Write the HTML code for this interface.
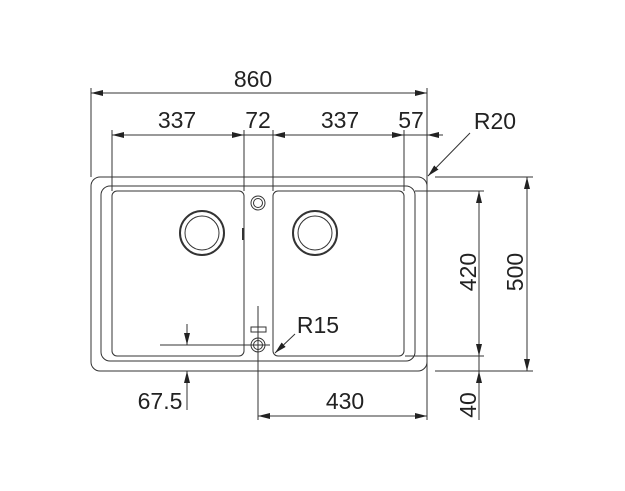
<!DOCTYPE html>
<html><head><meta charset="utf-8"><style>
html,body{margin:0;padding:0;background:#fff;}
svg{display:block;}
text{font-family:"Liberation Sans",Arial,sans-serif;font-size:23px;fill:#222;}
</style></head><body>
<svg width="625" height="491" viewBox="0 0 625 491" xmlns="http://www.w3.org/2000/svg">
<defs>
<marker id="a" viewBox="0 0 12 6" refX="12" refY="3" markerWidth="12" markerHeight="6" orient="auto-start-reverse" markerUnits="userSpaceOnUse"><path d="M0,0 L12,3 L0,6 z" fill="#222"/></marker>
</defs>
<g fill="none" stroke="#333" stroke-width="1">
<rect x="91" y="177" width="336" height="194" rx="9"/>
<rect x="101" y="186" width="314" height="175" rx="9"/>
<rect x="112" y="191" width="132" height="165" rx="5"/>
<rect x="273" y="191" width="131" height="165" rx="5"/>
<circle cx="202" cy="233" r="22" stroke-width="2"/>
<circle cx="202" cy="233" r="17"/>
<circle cx="315" cy="233" r="22" stroke-width="2"/>
<circle cx="315" cy="233" r="17"/>
<circle cx="258" cy="203" r="7"/>
<circle cx="258" cy="203" r="4.5"/>
<circle cx="258" cy="345" r="7"/>
<circle cx="258" cy="345" r="4.5"/>
<rect x="251" y="327" width="15" height="5"/>
<line x1="243" y1="228" x2="243" y2="240" stroke-width="2"/>
<line x1="91" y1="88" x2="91" y2="177"/>
<line x1="427" y1="88" x2="427" y2="420"/>
<line x1="112" y1="130" x2="112" y2="191"/>
<line x1="244" y1="130" x2="244" y2="191"/>
<line x1="273" y1="130" x2="273" y2="191"/>
<line x1="404" y1="130" x2="404" y2="191"/>
<line x1="435" y1="177" x2="533" y2="177"/>
<line x1="415" y1="191" x2="484" y2="191"/>
<line x1="405" y1="356" x2="484" y2="356"/>
<line x1="435" y1="371" x2="533" y2="371"/>
<line x1="258" y1="306" x2="258" y2="420"/>
<line x1="160" y1="345" x2="270" y2="345"/>
<line x1="91" y1="93" x2="427" y2="93" marker-start="url(#a)" marker-end="url(#a)"/>
<line x1="112" y1="135" x2="244" y2="135" marker-start="url(#a)" marker-end="url(#a)"/>
<line x1="244" y1="135" x2="273" y2="135"/>
<line x1="273" y1="135" x2="404" y2="135" marker-start="url(#a)" marker-end="url(#a)"/>
<line x1="404" y1="135" x2="443" y2="135"/>
<line x1="443" y1="135" x2="427" y2="135" marker-end="url(#a)"/>
<line x1="479" y1="191" x2="479" y2="356" marker-start="url(#a)" marker-end="url(#a)"/>
<line x1="479" y1="356" x2="479" y2="420"/>
<line x1="479" y1="420" x2="479" y2="371" marker-end="url(#a)"/>
<line x1="527" y1="177" x2="527" y2="371" marker-start="url(#a)" marker-end="url(#a)"/>
<line x1="258" y1="416" x2="427" y2="416" marker-start="url(#a)" marker-end="url(#a)"/>
<line x1="187" y1="324" x2="187" y2="345" marker-end="url(#a)"/>
<line x1="187" y1="410" x2="187" y2="371" marker-end="url(#a)"/>
<line x1="470" y1="133" x2="428" y2="176" marker-end="url(#a)"/>
<line x1="295" y1="334" x2="275" y2="353" marker-end="url(#a)"/>
</g>
<text x="253" y="87" text-anchor="middle">860</text>
<text x="177" y="128" text-anchor="middle">337</text>
<text x="258" y="128" text-anchor="middle">72</text>
<text x="340" y="128" text-anchor="middle">337</text>
<text x="411" y="128" text-anchor="middle">57</text>
<text x="495" y="129" text-anchor="middle">R20</text>
<text x="318" y="333" text-anchor="middle">R15</text>
<text x="160" y="409" text-anchor="middle">67.5</text>
<text x="345" y="409" text-anchor="middle">430</text>
<text transform="translate(476,272) rotate(-90)" text-anchor="middle">420</text>
<text transform="translate(523,272) rotate(-90)" text-anchor="middle">500</text>
<text transform="translate(476,405) rotate(-90)" text-anchor="middle">40</text>
</svg>
</body></html>
